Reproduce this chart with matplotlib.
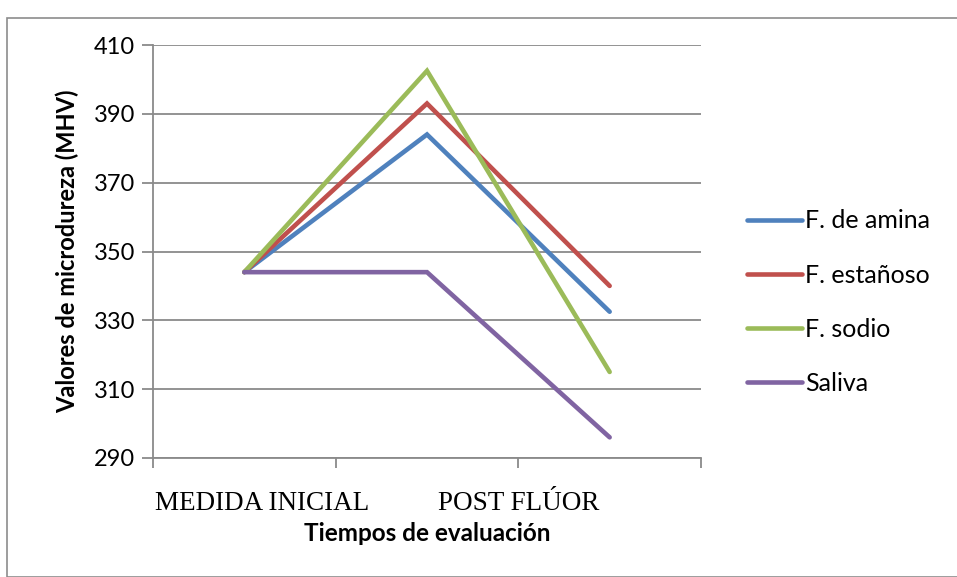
import matplotlib
matplotlib.use("Agg")
import matplotlib.pyplot as plt
from matplotlib.patches import Rectangle

categories = ["MEDIDA INICIAL", "POST FLÚOR", ""]
series_names = ["F. de amina", "F. estañoso", "F. sodio", "Saliva"]
amina = [344, 384, 332.5]
estanoso = [344, 393, 340]
sodio = [344, 402.5, 315]
saliva = [344, 344, 296]
yticks = [290, 310, 330, 350, 370, 390, 410]

colors = ["#4F81BD", "#C0504D", "#9BBB59", "#8064A2"]
sans = ["Lato", "DejaVu Sans"]

fig = plt.figure(figsize=(9.57, 5.77), dpi=100)
fig.patches.append(Rectangle((7/957, 0), 1 - 7/957 + 0.01, 1 - 18/577, transform=fig.transFigure,
                             fill=False, edgecolor="#8c8c8c", linewidth=1.2))
ax = fig.add_axes([153/957, 1 - 458/577, (701 - 153)/957, (458 - 45)/577])

x = list(range(len(categories)))
for name, vals, c in zip(series_names, [amina, estanoso, sodio, saliva], colors):
    ax.plot(x, vals, color=c, linewidth=3.3, label=name, solid_capstyle="round", solid_joinstyle="miter")

ax.set_xlim(-0.5, len(categories) - 0.5)
ax.set_ylim(yticks[0], yticks[-1])
ax.set_yticks(yticks)
ax.set_yticklabels([str(t) for t in yticks], fontsize=17, family=sans)
ax.yaxis.grid(True, color="#8a8a8a", linewidth=1.3)
ax.set_axisbelow(True)
for s in ["top", "right"]:
    ax.spines[s].set_visible(False)
for s in ["left", "bottom"]:
    ax.spines[s].set_color("#8a8a8a")
    ax.spines[s].set_linewidth(1.3)
ax.tick_params(axis="y", length=8, width=1.3, color="#8a8a8a", pad=5)

# category boundary ticks
ax.set_xticks([-0.5, 0.5, 1.5, 2.5])
ax.set_xticklabels([])
ax.tick_params(axis="x", length=7, width=1.3, color="#8a8a8a", direction="out")

# category labels (as placed in the original)
label_pos = [0.095, 1.5]
for pos, lab in zip(label_pos, categories[:2]):
    ax.text(pos, -0.109, lab, transform=ax.get_xaxis_transform(), ha="center", va="center",
            fontsize=19.5, family=["Liberation Serif", "DejaVu Serif"])

ax.text(1.0, -0.183, "Tiempos de evaluación", transform=ax.get_xaxis_transform(), ha="center",
        va="center", fontsize=17.5, fontweight="bold", family=sans)
ax.set_ylabel("Valores de microdureza (MHV)", fontsize=17, fontweight="bold", family=sans, labelpad=10)

leg = ax.legend(loc="center left", bbox_to_anchor=(1.065, 0.377), frameon=False,
                prop={"family": sans, "size": 18}, handlelength=2.2, handletextpad=0.15,
                labelspacing=1.25, borderaxespad=0.0)
for h in leg.get_lines():
    h.set_linewidth(3.3)

fig.savefig("out.png", dpi=100)
